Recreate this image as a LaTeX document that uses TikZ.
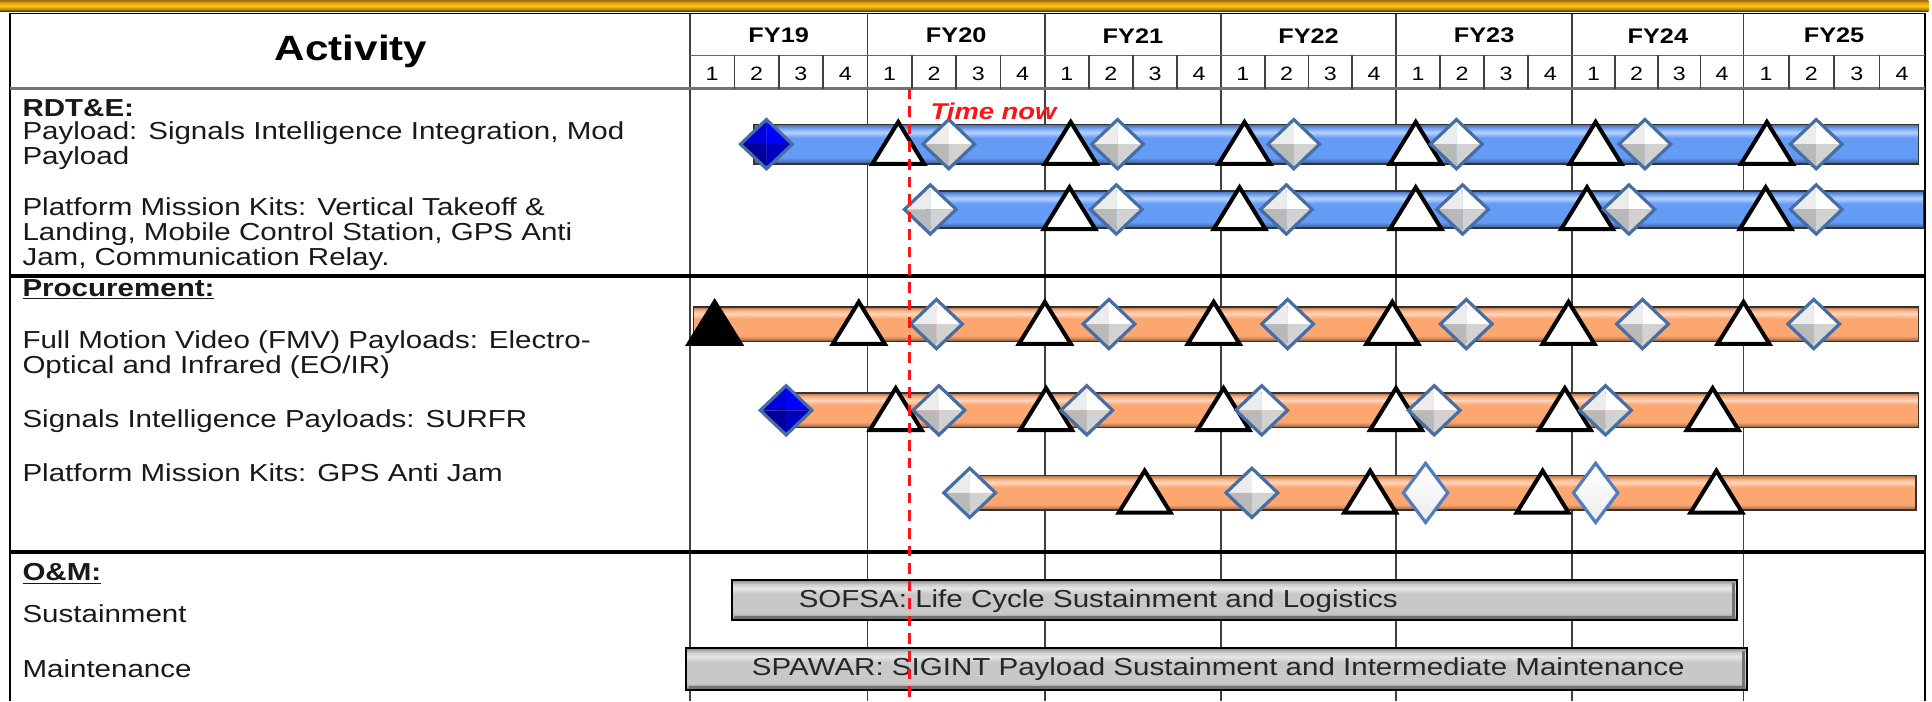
\documentclass[tikz,border=0pt]{standalone}
\usepackage{fontspec}
\setmainfont{Liberation Sans}[FakeStretch=1.2]
\usetikzlibrary{positioning}

\definecolor{barblue}{RGB}{100,155,245}
\definecolor{barorange}{RGB}{252,166,112}
\definecolor{bargray}{RGB}{200,200,200}
\definecolor{diaedge}{RGB}{70,110,165}
\definecolor{bandgold}{RGB}{235,160,20}
\definecolor{nowred}{RGB}{255,20,20}

\newcommand\barshade[2]{%
  \pgfdeclareverticalshading{#1}{100bp}{color(0bp)=(#2!40!black); color(25bp)=(#2!40!black);
    color(28bp)=(#2!75!black); color(33bp)=(#2); color(58bp)=(#2); color(65bp)=(#2!45!white);
    color(70bp)=(#2!90!white); color(75bp)=(#2!70!black); color(100bp)=(#2!70!black)}}
\barshade{blueshade}{barblue}
\barshade{orangeshade}{barorange}
\barshade{grayshade}{bargray}
\pgfdeclareverticalshading{bandshade}{100bp}{color(0bp)=(bandgold!35!black); color(25bp)=(bandgold!35!black);
  color(33bp)=(bandgold!80!black); color(48bp)=(bandgold!55!yellow); color(62bp)=(bandgold);
  color(75bp)=(bandgold!65!black); color(100bp)=(bandgold!65!black)}

\newcommand\tri[3][white]{\draw[tri, fill=#1] (#2-21,#3+16) -- (#2,#3-18) -- (#2+21,#3+16) -- cycle;}
\newcommand\facets[6]{%
  \fill[#3] (#1,#2) -- (#1-21,#2) -- (#1,#2-20) -- cycle;
  \fill[#4] (#1,#2) -- (#1,#2-20) -- (#1+21,#2) -- cycle;
  \fill[#5] (#1,#2) -- (#1-21,#2) -- (#1,#2+20) -- cycle;
  \fill[#6] (#1,#2) -- (#1+21,#2) -- (#1,#2+20) -- cycle;
  \draw[diaedge, line width=1.8pt, line join=miter] (#1-21,#2) -- (#1,#2-20) -- (#1+21,#2) -- (#1,#2+20) -- cycle;}
\newcommand\dia[2]{\facets{#1}{#2}{gray!15}{white}{gray!55}{gray!35}}
\newcommand\bluedia[2]{\facets{#1}{#2}{blue!85!black}{blue}{blue!60!black}{blue!75!black}}
\newcommand\whitedia[2]{%
  \draw[top color=white, bottom color=gray!15, draw=barblue!80!black, line width=1.8pt, line join=miter]
    (#1-18,#2) -- (#1,#2-24) -- (#1+18,#2) -- (#1,#2+24) -- cycle;}

\begin{document}
\begin{tikzpicture}[x=0.02464cm, y=-0.02464cm,
    grid/.style={black!75, line width=0.9pt},
    sect/.style={black, line width=2.2pt},
    tri/.style={draw=black, line width=2.3pt, line join=miter},
    lbl/.style={anchor=west, align=left, inner sep=0pt, text=black!90, font=\fontsize{14}{14}\selectfont},
    sec/.style={lbl, font=\bfseries\fontsize{14}{14}\selectfont},
    fy/.style={inner sep=0pt, font=\bfseries\fontsize{12}{12}\selectfont},
    qnum/.style={inner sep=0pt, font=\fontsize{11}{11}\selectfont},
    rdtbar/.style={shading=blueshade, draw=black!80, line width=0.8pt},
    procbar/.style={shading=orangeshade, draw=black!80, line width=0.8pt},
    ombar/.style={shading=grayshade, draw=black, line width=1pt},
    bartext/.style={anchor=west, inner sep=0pt, text=black!85, font=\fontsize{14}{14}\selectfont}]
    \useasboundingbox (0,0) rectangle (1568,569);

    \shade[shading=bandshade] (0,0) rectangle (1565,9);

    % table
    \draw[black, line width=1pt] (8,569) -- (8,11) -- (1562,11) -- (1562,569);
    \draw[grid] (560,11) -- (560,569);
    \foreach \a in {704,848,991,1133,1276,1415}
        \draw[grid] (\a,11) -- (\a,569);
    \draw[black!60, line width=1pt] (560,45) -- (1562,45);
    \draw[black!55, line width=1.6pt] (8,72) -- (1562,72);
    \draw[sect] (8,224) -- (1562,224);
    \draw[sect] (8,448) -- (1562,448);

    \node[inner sep=0pt, font=\bfseries\fontsize{20}{20}\selectfont] (act) at (285,42) {Activity};
    \foreach \a/\b/\yr in {560/704/19,704/848/20,848/991/21,991/1133/22,1133/1276/23,1276/1415/24,1415/1562/25} {
        \node[fy] (fy\yr) at ({(\a+\b)/2},29) {FY\yr};
        \foreach \q in {1,2,3,4}
            \node[qnum] (q\yr-\q) at ({\a+(\q-0.5)*(\b-\a)/4},60) {\q};
        \foreach \q in {1,2,3}
            \draw[grid] ({\a+\q*(\b-\a)/4},45) -- ++(0,27);
    }

    % activities
    \node[sec] (rdte) at (18,88) {RDT\&E:};
    \node[lbl] (sigint) at (18,118) {Payload: Signals Intelligence Integration, Mod\\Payload};
    \node[lbl] (kits) at (18,190) {Platform Mission Kits: Vertical Takeoff \&\\Landing, Mobile Control Station, GPS Anti\\Jam, Communication Relay.};
    \node[sec] (proc) at (18,235) {\underline{Procurement:}};
    \node[lbl] (fmv) at (18,288) {Full Motion Video (FMV) Payloads: Electro-\\Optical and Infrared (EO/IR)};
    \node[lbl] (surfr) at (18,342) {Signals Intelligence Payloads: SURFR};
    \node[lbl] (gps) at (18,384) {Platform Mission Kits: GPS Anti Jam};
    \node[sec] (om) at (18,466) {\underline{O\&M:}};
    \node[lbl] (sust) at (18,498) {Sustainment};
    \node[lbl] (maint) at (18,543) {Maintenance};

    % bars
    \shade[rdtbar] (612,101) rectangle (1557,133);
    \shade[rdtbar] (752,155) rectangle (1561,185);
    \shade[procbar] (563,249) rectangle (1557,277);
    \shade[procbar] (630,319) rectangle (1557,347);
    \shade[procbar] (785,386) rectangle (1555,414);
    \shade[ombar] (594,471) rectangle (1410,503);
    \draw[black!55, line width=2pt] (1407,473) -- (1407,501) -- (596,501);
    \node[bartext] (sofsa) at (648,488) {SOFSA: Life Cycle Sustainment and Logistics};
    \shade[ombar] (557,526) rectangle (1418,560);
    \draw[black!55, line width=2pt] (1415,528) -- (1415,558) -- (559,558);
    \node[bartext] (spawar) at (610,543) {SPAWAR: SIGINT Payload Sustainment and Intermediate Maintenance};

    % milestones
    \foreach \x in {729,869,1010,1149,1295,1434} {\tri{\x}{117}}
    \bluedia{622}{117}
    \foreach \x in {770,907,1050,1182,1335,1474} {\dia{\x}{117}}
    \foreach \x in {868,1006,1149,1288,1433} {\tri{\x}{170}}
    \foreach \x in {755,906,1044,1187,1322,1474} {\dia{\x}{170}}
    \tri[black]{580}{263}
    \foreach \x in {697,848,985,1130,1273,1415} {\tri{\x}{263}}
    \foreach \x in {760,900,1045,1190,1333,1472} {\dia{\x}{263}}
    \foreach \x in {727,849,993,1133,1270,1390} {\tri{\x}{333}}
    \bluedia{638}{333}
    \foreach \x in {762,882,1024,1164,1303} {\dia{\x}{333}}
    \foreach \x in {929,1112,1252,1393} {\tri{\x}{400}}
    \foreach \x in {787,1016} {\dia{\x}{400}}
    \foreach \x in {1157,1295} {\whitedia{\x}{400}}

    % time now
    \draw[nowred, line width=2pt, dash pattern=on 6pt off 4pt] (738,72) -- (738,569);
    \node[anchor=west, inner sep=0pt, text=nowred, font=\bfseries\itshape\fontsize{13}{13}\selectfont] (now) at (755,90) {Time now};
\end{tikzpicture}
\end{document}
